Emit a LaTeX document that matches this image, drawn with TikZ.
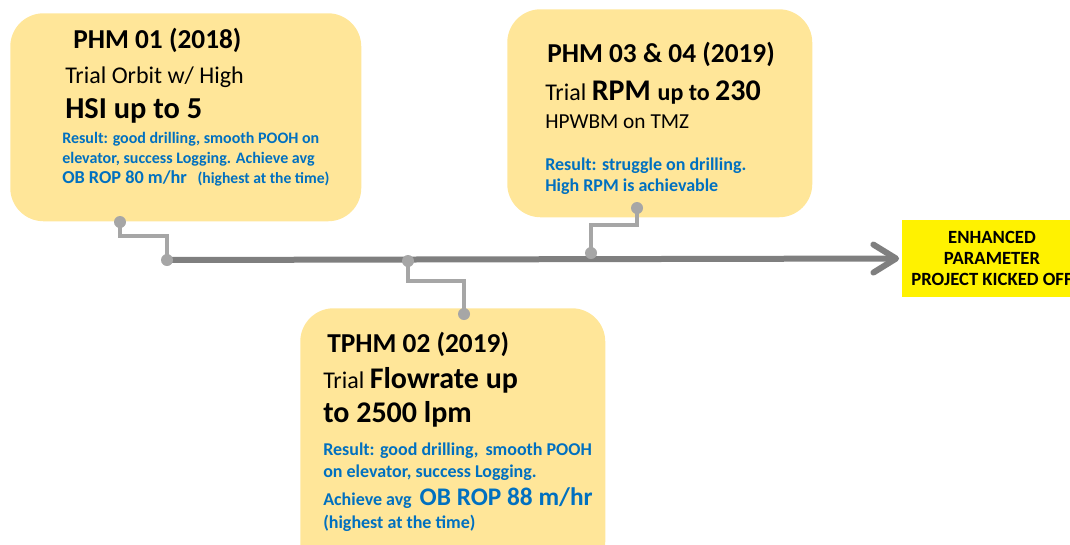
\documentclass[tikz,border=0pt]{standalone}
\usepackage{fontspec}
\setmainfont{Carlito}
\usetikzlibrary{arrows.meta}
\definecolor{cardfill}{HTML}{FFE699}
\definecolor{resblue}{HTML}{0070C0}
\definecolor{axisgray}{HTML}{7F7F7F}
\definecolor{linkgray}{HTML}{A6A6A6}
\tikzset{
    card/.style = {fill=cardfill, rounded corners=25pt, inner sep=0pt, anchor=north west},
    txt/.style = {anchor=base west, inner sep=0pt},
    ttl/.style = {txt, font=\fontsize{20.5}{24}\selectfont\bfseries},
    res/.style = {txt, text=resblue, font=\fontsize{13.5}{16}\selectfont\bfseries},
    link/.style = {draw=linkgray, line width=2.3pt},
    axis/.style = {draw=axisgray, line width=4.5pt, line cap=round,
        -{Straight Barb[length=17pt, width=21pt, line cap=round, line join=round]}}
}
\newcommand{\sz}[1]{\fontsize{#1}{#1}\selectfont}
\begin{document}
\begin{tikzpicture}[x=0.75pt, y=-0.75pt]
    \useasboundingbox (0,0) rectangle (1070,544);
    % trial cards
    \node [card, minimum width=263.25pt, minimum height=156pt] (phm1) at (10,13) {};
    \node [card, minimum width=228.75pt, minimum height=156pt] (phm34) at (507,9) {};
    \node [card, minimum width=228.75pt, minimum height=200pt] (tphm2) at (300,308) {};
    \node [fill=yellow, minimum width=135pt, minimum height=57.75pt, inner sep=0pt,
        align=center, font=\sz{14}\bfseries] (kick) at (992,258.5)
        {ENHANCED\\[1.5pt]PARAMETER\\[1.5pt]PROJECT KICKED OFF};

    % PHM 01
    \node [ttl] (t1) at (73,48) {PHM 01 (2018)};
    \node [txt, font=\sz{18}] (t1a) at (65,83) {Trial Orbit w/ High};
    \node [txt, font=\sz{22.8}\bfseries] (t1b) at (65,118) {HSI up to 5};
    \node [res, font=\sz{12}\bfseries] (r1a) at (62,143) {Result: good drilling, smooth POOH on};
    \node [res, font=\sz{12}\bfseries] (r1b) at (62,163) {elevator, success Logging. Achieve avg};
    \node [res] (r1c) at (62,183) {\sz{13.7}OB ROP 80 m/hr\hspace{8pt}\sz{11.7}(highest at the time)};

    % PHM 03 & 04
    \node [ttl] (t3) at (547,62) {PHM 03 \& 04 (2019)};
    \node [txt] (t3a) at (545,100) {\sz{18}Trial \sz{22.5}\bfseries RPM \sz{18}up to \sz{22.5}230};
    \node [txt, font=\sz{16}] (t3b) at (545,128) {HPWBM on TMZ};
    \node [res] (r3a) at (545,170) {Result: struggle on drilling.};
    \node [res] (r3b) at (545,191) {High RPM is achievable};

    % TPHM 02
    \node [ttl] (t2) at (327,352) {TPHM 02 (2019)};
    \node [txt] (t2a) at (323,388) {\sz{18}Trial \sz{22.5}\bfseries Flowrate up};
    \node [txt, font=\sz{22.5}\bfseries] (t2b) at (323,422) {to 2500 lpm};
    \node [res] (r2a) at (323,455) {Result: good drilling,\, smooth POOH};
    \node [res] (r2b) at (323,477) {on elevator, success Logging.};
    \node [res] (r2c) at (323,505) {Achieve avg\hspace{6pt}\sz{19}OB ROP 88 m/hr};
    \node [res] (r2d) at (323,528) {(highest at the time)};

    % timeline
    \coordinate (d1a) at (120,222);
    \coordinate (d1b) at (167,260);
    \coordinate (d2a) at (408,261);
    \coordinate (d2b) at (464,314);
    \coordinate (d3a) at (591,253);
    \coordinate (d3b) at (637,208);
    \draw [axis, shorten >=2pt] (d1b) -- (kick.west);
    \draw [link] (d1a) -- ++(0,14) -| (d1b);
    \draw [link] (d2a) -- ++(0,20) -| (d2b);
    \draw [link] (d3a) -- ++(0,-28) -| (d3b);
    \foreach \d in {d1a,d1b,d2a,d2b,d3a,d3b}
        \fill [linkgray] (\d) circle (4.5pt);
\end{tikzpicture}
\end{document}
